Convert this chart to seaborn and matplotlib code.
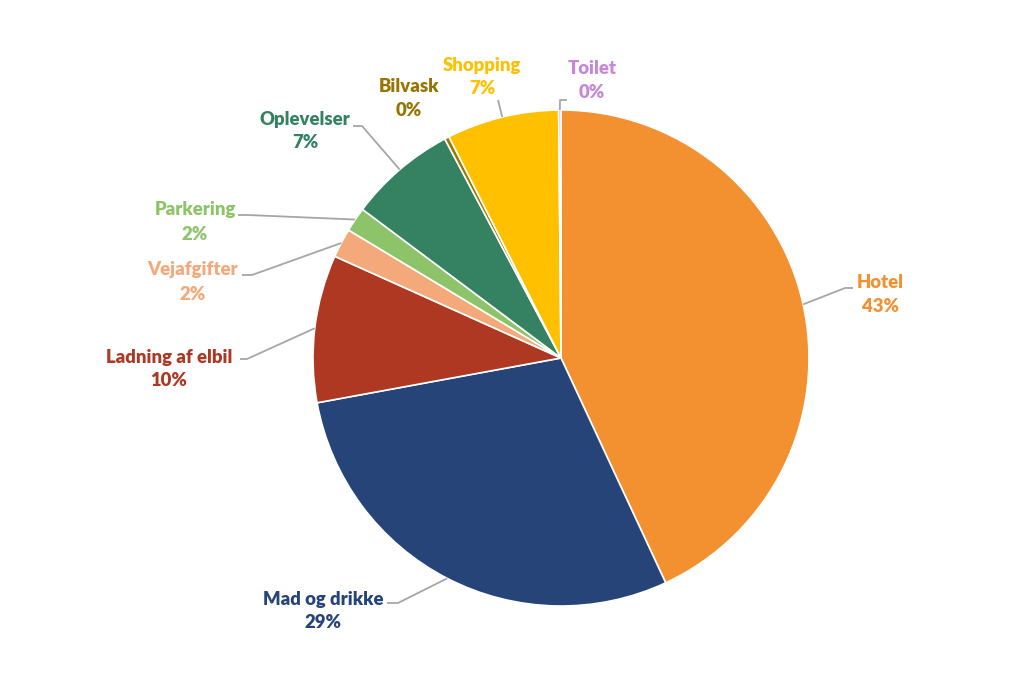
import numpy as np
import matplotlib
matplotlib.use("Agg")
import matplotlib.pyplot as plt
import seaborn as sns

# expense categories (clockwise from 12 o'clock)
categories = ["Hotel", "Mad og drikke", "Ladning af elbil", "Vejafgifter",
              "Parkering", "Oplevelser", "Bilvask", "Shopping", "Toilet"]
shares = [43.0, 29.0, 9.6, 1.9, 1.6, 7.0, 0.3, 7.3, 0.15]

wedge_colors = ["#F39130", "#264478", "#AE3822", "#F4A97A", "#8DC46A",
                "#358262", "#9C7800", "#FFC000", "#DDA0DD"]
text_colors = ["#F39130", "#264478", "#AE3822", "#F4A97A", "#8DC46A",
               "#358262", "#977400", "#FFC000", "#C886DA"]

# label layout in pixels: block centre and leader start/elbow
label_pos = [(880, 295), (323, 611), (169, 369), (193, 282), (195, 222),
             (305, 131), (409, 99), (482, 77), (592, 80)]
leaders = [[(853, 288), (845, 288)],
           [(387, 603), (398, 603)],
           [(240, 359), (247, 359)],
           [(242, 275), (252, 275)],
           [(238, 215), (248, 215)],
           [(353, 126), (362, 126)],
           None,
           [(498, 100)],
           [(567, 100), (560, 100)]]

CX, CY, R = 561, 358, 248
W, H = 1024, 683


def px(x, y):
    return (x - CX) / R, (CY - y) / R


sns.set_theme(style="white")
plt.rcParams["font.family"] = ["Lato", "DejaVu Sans"]

fig = plt.figure(figsize=(W / 100, H / 100), dpi=100)
ax = fig.add_axes([0, 0, 1, 1])

wedges, _ = ax.pie(shares, colors=wedge_colors, startangle=90, counterclock=False,
                   radius=1, center=(0, 0),
                   wedgeprops=dict(edgecolor="white", linewidth=1.2))

total = sum(shares)
for i, w in enumerate(wedges):
    pct = f"{round(shares[i] / total * 100):.0f}%"
    tx, ty = px(*label_pos[i])
    ax.text(tx, ty, f"{categories[i]}\n{pct}", ha="center", va="center",
            color=text_colors[i], fontsize=13.3, fontweight="heavy", linespacing=1.5)
    if leaders[i] is not None:
        mid = np.deg2rad((w.theta1 + w.theta2) / 2)
        pts = [px(*p) for p in leaders[i]] + [(np.cos(mid), np.sin(mid))]
        xs, ys = zip(*pts)
        ax.plot(xs, ys, color="#A6A6A6", linewidth=1.3, solid_capstyle="butt")

ax.set_xlim(-CX / R, (W - CX) / R)
ax.set_ylim(-(H - CY) / R, CY / R)
ax.set_aspect("auto")
ax.axis("off")

fig.savefig("out.png", dpi=100, facecolor="white")
